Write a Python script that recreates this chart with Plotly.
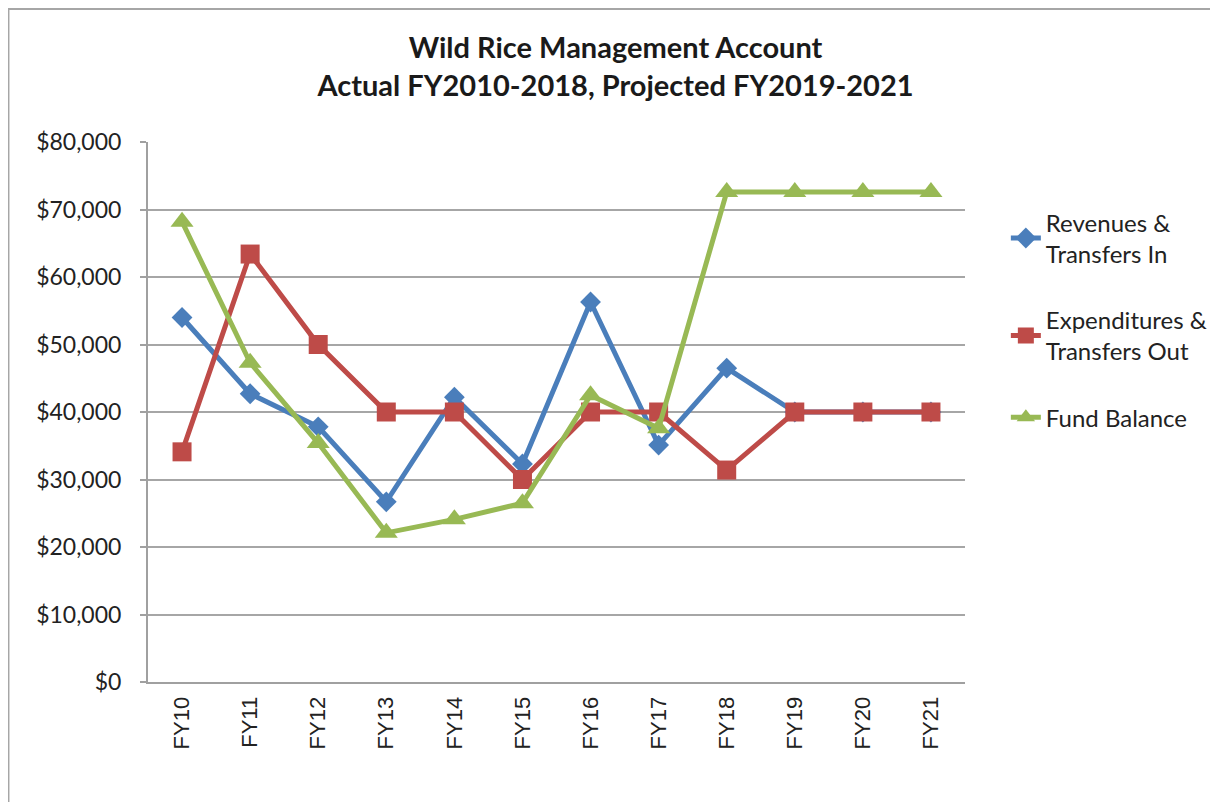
import plotly.graph_objects as go

years = ['FY10', 'FY11', 'FY12', 'FY13', 'FY14', 'FY15',
         'FY16', 'FY17', 'FY18', 'FY19', 'FY20', 'FY21']
revenues = [54000, 42700, 37800, 26700, 42200, 32300,
            56300, 35100, 46500, 40000, 40000, 40000]
expenditures = [34100, 63400, 50000, 40000, 40000, 30000,
                40000, 40000, 31400, 40000, 40000, 40000]
fund_balance = [68200, 47300, 35400, 22100, 24100, 26500,
                42500, 37600, 72600, 72600, 72600, 72600]

fig = go.Figure()
fig.add_trace(go.Scatter(x=years, y=revenues, name='Revenues &<br>Transfers In',
                         mode='lines+markers', legendgroup='a',
                         line=dict(color='#4A7EBB', width=5),
                         marker=dict(symbol='diamond', size=16, color='#4A7EBB')))
fig.add_trace(go.Scatter(x=years, y=expenditures, name='Expenditures &<br>Transfers Out',
                         mode='lines+markers', legendgroup='b',
                         line=dict(color='#BE4B48', width=5),
                         marker=dict(symbol='square', size=19, color='#BE4B48')))
fig.add_trace(go.Scatter(x=years, y=fund_balance, name='Fund Balance',
                         mode='lines+markers', legendgroup='c',
                         line=dict(color='#98B954', width=5),
                         marker=dict(symbol='triangle-up', size=20, color='#98B954')))

# page body adds an 8px offset, so margins are shifted by 8px
fig.update_layout(
    width=1218, height=802,
    margin=dict(l=140, r=261, t=134, b=128),
    paper_bgcolor='white', plot_bgcolor='white',
    font=dict(family='Lato, Carlito, Calibri, sans-serif', size=20, color='#222222'),
    title=dict(text='<b>Wild Rice Management Account<br>Actual FY2010-2018, Projected FY2019-2021</b>',
               x=0.4988, xanchor='center', yref='container', y=1 - 50 / 802, yanchor='middle',
               font=dict(size=29, color='#1a1a1a')),
    legend=dict(x=1.05, y=0.892, xanchor='left', yanchor='top',
                traceorder='grouped', tracegroupgap=32,
                font=dict(size=24, color='#222222'), bgcolor='rgba(0,0,0,0)'),
    shapes=[dict(type='rect', xref='paper', yref='paper',
                 x0=-0.1708, x1=1.4, y0=-0.3, y1=1.2463,
                 line=dict(color='#A6A6A6', width=2), layer='below')],
)

fig.update_xaxes(type='category', range=[-0.5, 11.5], tickangle=-90,
                 showline=True, linecolor='#A0A0A0', linewidth=2,
                 showgrid=False, ticks='', ticklabelstandoff=4,
                 tickfont=dict(family='Liberation Sans, Arial, sans-serif', size=22, color='#222222'))
fig.update_yaxes(range=[0, 80000], dtick=10000, tickprefix='$', tickformat=',',
                 showline=True, linecolor='#A0A0A0', linewidth=2,
                 showgrid=True, gridcolor='#A6A6A6', gridwidth=2,
                 ticks='outside', ticklen=6, tickcolor='#A0A0A0', tickwidth=2,
                 ticklabelstandoff=14, zeroline=False,
                 tickfont=dict(size=23, color='#222222'))

fig.write_html('out.html')
